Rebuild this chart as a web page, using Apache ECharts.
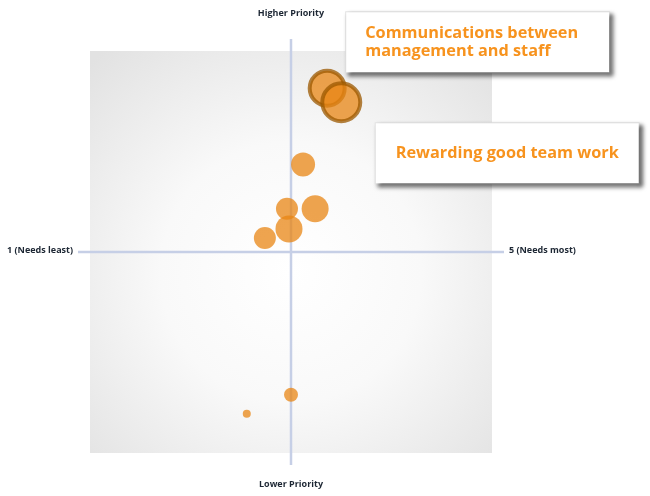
<!DOCTYPE html>
<html>
<head>
<meta charset="utf-8">
<script src="https://cdn.jsdelivr.net/npm/echarts@6/dist/echarts.min.js"></script>
<style>
  html, body { margin: 0; padding: 0; background: #fff; }
  #chart { width: 650px; height: 496px; }
</style>
</head>
<body>
<div id="chart"></div>
<script>
// need score (1 = needs least, 5 = needs most)
const need = [3.36, 3.50, 3.12, 2.96, 3.24, 2.98, 2.74, 3.00, 2.56];
// priority score (1 = lower, 5 = higher)
const priority = [4.63, 4.49, 3.87, 3.43, 3.43, 3.23, 3.14, 1.58, 1.39];
// bubble weight
const weight = [35, 38, 24, 22, 27, 27, 22, 14, 8];
const callouts = ['Communications between\nmanagement and staff', 'Rewarding good team work'];

const xLabels = ['1 (Needs least)', '5 (Needs most)'];
const yLabels = ['Lower Priority', 'Higher Priority'];

const orange = '#f7931e';
const bubbleFill = 'rgba(232,134,20,0.75)';
const labelFont = '"Open Sans", sans-serif';

const chart = echarts.init(document.getElementById('chart'));

const boxStyle = {
  show: true,
  position: 'inside',
  color: orange,
  fontFamily: labelFont,
  fontWeight: 'bold',
  fontSize: 16.3,
  lineHeight: 18,
  backgroundColor: '#fff',
  borderColor: '#e4e4e4',
  borderWidth: 1,
  shadowColor: 'rgba(0,0,0,0.55)',
  shadowBlur: 4,
  shadowOffsetX: 3,
  shadowOffsetY: 3,
  verticalAlign: 'middle',
};

const data = need.map((x, i) => {
  const item = { value: [x, priority[i], weight[i]] };
  if (i === 0) {
    item.itemStyle = { borderColor: 'rgba(155,88,0,0.75)', borderWidth: 4 };
    item.label = {
      ...boxStyle,
      formatter: callouts[0],
      align: 'left',
      width: 244,
      padding: [12, 0, 12, 19],
      offset: [19, -46],
    };
  } else if (i === 1) {
    item.itemStyle = { borderColor: 'rgba(155,88,0,0.75)', borderWidth: 4 };
    item.label = {
      ...boxStyle,
      formatter: callouts[1],
      align: 'center',
      width: 243,
      padding: [21, 10, 21, 10],
      offset: [166, 51],
    };
  }
  return item;
});

chart.setOption({
  animation: false,
  grid: {
    left: 90,
    top: 51,
    width: 402,
    height: 402,
    show: true,
    borderWidth: 0,
    backgroundColor: new echarts.graphic.RadialGradient(0.5, 0.55, 0.72, [
      { offset: 0, color: '#ffffff' },
      { offset: 0.45, color: '#f9f9f9' },
      { offset: 1, color: '#e2e2e2' },
    ]),
  },
  xAxis: { type: 'value', min: 1, max: 5, show: false },
  yAxis: { type: 'value', min: 1, max: 5, show: false },
  series: [
    {
      type: 'scatter',
      z: 5,
      symbolSize: (v) => v[2],
      itemStyle: { color: bubbleFill, opacity: 1 },
      label: { show: false },
      data: data,
    },
  ],
});

// quadrant cross lines and end labels, placed from the axis scales
const pt = (x, y) => chart.convertToPixel({ xAxisIndex: 0, yAxisIndex: 0 }, [x, y]);
const c = pt(3, 3);
const lo = pt(1, 1);
const hi = pt(5, 5);
const ext = 12;
const lineStyle = { stroke: '#c6cfe6', lineWidth: 2.5 };
const textStyle = { fill: '#1c2633', font: 'bold 9px "Open Sans", sans-serif' };

chart.setOption({
  graphic: [
    { type: 'line', z: 1, shape: { x1: c[0], y1: hi[1] - ext, x2: c[0], y2: lo[1] + ext }, style: lineStyle },
    { type: 'line', z: 1, shape: { x1: lo[0] - ext, y1: c[1], x2: hi[0] + ext, y2: c[1] }, style: lineStyle },
    { type: 'text', x: c[0], y: 13, style: { ...textStyle, text: yLabels[1], align: 'center', verticalAlign: 'middle' } },
    { type: 'text', x: c[0], y: 484, style: { ...textStyle, text: yLabels[0], align: 'center', verticalAlign: 'middle' } },
    { type: 'text', x: lo[0] - ext - 5, y: c[1] - 2, style: { ...textStyle, text: xLabels[0], align: 'right', verticalAlign: 'middle' } },
    { type: 'text', x: hi[0] + ext + 5, y: c[1] - 2, style: { ...textStyle, text: xLabels[1], align: 'left', verticalAlign: 'middle' } },
  ],
});
</script>
</body>
</html>
